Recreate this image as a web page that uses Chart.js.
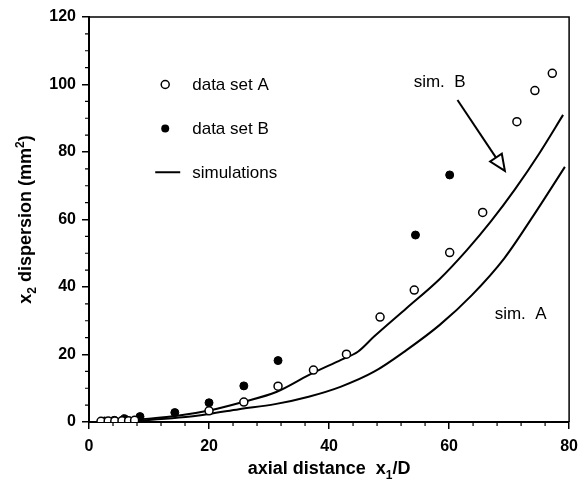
<!DOCTYPE html>
<html>
<head>
<meta charset="utf-8">
<script src="https://cdn.jsdelivr.net/npm/chart.js@4.4.1/dist/chart.umd.min.js"></script>
<style>
    html, body { margin: 0; padding: 0; background: #fff; }
</style>
</head>
<body>
<canvas id="dispersionChart" width="586" height="484"></canvas>
<script>
const dataSetAX = [2, 3.2, 4.3, 5.5, 6.6, 7.6, 20, 25.8, 31.5, 37.4, 42.9, 48.5, 54.2, 60.1, 65.6, 71.3, 74.3, 77.2];
const dataSetAY = [0.2, 0.3, 0.3, 0.4, 0.4, 0.5, 3.3, 5.9, 10.6, 15.4, 20.1, 31.1, 39.1, 50.2, 62.1, 89, 98.2, 103.3];

const dataSetBX = [2.6, 4.2, 5.9, 8.5, 14.3, 20, 25.8, 31.5, 54.4, 60.1];
const dataSetBY = [0.3, 0.5, 1.0, 1.6, 2.8, 5.7, 10.7, 18.2, 55.4, 73.2];

// Simulation curves
const simAX = [2, 5, 10, 15, 20, 25, 31, 36.6, 42, 47.5, 52.9, 58.4, 63.8, 69.2, 74, 79.3];
const simAY = [0.1, 0.2, 0.6, 1.3, 2.4, 3.8, 5.3, 7.5, 10.5, 14.9, 21.3, 28.7, 37.6, 48.5, 61, 75.6];

const simBX = [2, 5, 10, 15, 20, 25.8, 31.2, 36.6, 42, 44.8, 47.5, 52.9, 58.4, 63, 67, 71, 75, 79];
const simBY = [0.2, 0.4, 1.0, 1.9, 3.4, 6.0, 8.9, 13.9, 18.4, 20.8, 25.3, 33.7, 42.3, 51, 59.5, 69, 79.5, 91];

const xTicks = [0, 20, 40, 60, 80];
const yTicks = [0, 20, 40, 60, 80, 100, 120];

const legendLabels = ['data set A', 'data set B', 'simulations'];

function toPoints(xs, ys) {
    return xs.map((x, i) => ({ x: x, y: ys[i] }));
}

function drawRich(ctx, parts, x, y, size) {
    // parts: [text, mode] where mode is '', 'sub' or 'sup'
    const small = Math.round(size * 0.65);
    let total = 0;
    parts.forEach(p => {
        ctx.font = 'bold ' + (p[1] ? small : size) + 'px "Liberation Sans", Arial, sans-serif';
        total += ctx.measureText(p[0]).width;
    });
    let cx = x - total / 2;
    parts.forEach(p => {
        ctx.font = 'bold ' + (p[1] ? small : size) + 'px "Liberation Sans", Arial, sans-serif';
        let dy = 0;
        if (p[1] === 'sub') dy = size * 0.3;
        if (p[1] === 'sup') dy = -size * 0.4;
        ctx.fillText(p[0], cx, y + dy);
        cx += ctx.measureText(p[0]).width;
    });
}

const decorPlugin = {
    id: 'decor',
    afterDatasetsDraw(chart) {
        const ctx = chart.ctx;
        const xs = chart.scales.x;
        const ys = chart.scales.y;
        const area = chart.chartArea;
        ctx.save();
        ctx.strokeStyle = '#000';
        ctx.fillStyle = '#000';

        // top and right frame
        ctx.lineWidth = 1.5;
        ctx.beginPath();
        ctx.moveTo(area.left, area.top);
        ctx.lineTo(area.right, area.top);
        ctx.lineTo(area.right, area.bottom);
        ctx.stroke();

        // minor ticks
        ctx.lineWidth = 1.2;
        ctx.beginPath();
        for (let v = 4; v < 80; v += 4) {
            if (v % 20 === 0) continue;
            const px = xs.getPixelForValue(v);
            ctx.moveTo(px, area.bottom);
            ctx.lineTo(px, area.bottom + 4);
        }
        for (let v = 5; v < 120; v += 5) {
            if (v % 20 === 0) continue;
            const py = ys.getPixelForValue(v);
            ctx.moveTo(area.left, py);
            ctx.lineTo(area.left - 4, py);
        }
        ctx.stroke();

        // legend
        const lx = xs.getPixelForValue(12.7);
        const ly = [100, 87, 74].map(v => ys.getPixelForValue(v));
        ctx.lineWidth = 1.5;
        ctx.beginPath();
        ctx.arc(lx, ly[0], 4, 0, Math.PI * 2);
        ctx.stroke();
        ctx.beginPath();
        ctx.arc(lx, ly[1], 4, 0, Math.PI * 2);
        ctx.fill();
        ctx.lineWidth = 2;
        ctx.beginPath();
        ctx.moveTo(lx - 10, ly[2]);
        ctx.lineTo(lx + 15, ly[2]);
        ctx.stroke();
        ctx.font = '17px "Liberation Sans", Arial, sans-serif';
        ctx.textBaseline = 'middle';
        ctx.textAlign = 'left';
        legendLabels.forEach((t, i) => ctx.fillText(t, lx + 27, ly[i] + 1));

        // curve labels
        ctx.fillText('sim.  B', xs.getPixelForValue(54.1), ys.getPixelForValue(100.7));
        ctx.fillText('sim.  A', xs.getPixelForValue(67.6), ys.getPixelForValue(32));

        // arrow pointing to sim. B
        const ax0 = xs.getPixelForValue(61.4), ay0 = ys.getPixelForValue(95.4);
        const ax1 = xs.getPixelForValue(69.3), ay1 = ys.getPixelForValue(74.4);
        const ang = Math.atan2(ay1 - ay0, ax1 - ax0);
        const headLen = 16, headW = 7;
        const bx = ax1 - headLen * Math.cos(ang), by = ay1 - headLen * Math.sin(ang);
        ctx.lineWidth = 2;
        ctx.beginPath();
        ctx.moveTo(ax0, ay0);
        ctx.lineTo(bx, by);
        ctx.stroke();
        ctx.beginPath();
        ctx.moveTo(ax1, ay1);
        ctx.lineTo(bx + headW * Math.sin(ang), by - headW * Math.cos(ang));
        ctx.lineTo(bx - headW * Math.sin(ang), by + headW * Math.cos(ang));
        ctx.closePath();
        ctx.fillStyle = '#fff';
        ctx.fill();
        ctx.stroke();
        ctx.fillStyle = '#000';

        // axis titles
        ctx.textAlign = 'left';
        ctx.textBaseline = 'alphabetic';
        drawRich(ctx, [['axial distance  x', ''], ['1', 'sub'], ['/D', '']],
            (area.left + area.right) / 2, 474, 18);
        ctx.translate(31, (area.top + area.bottom) / 2);
        ctx.rotate(-Math.PI / 2);
        drawRich(ctx, [['x', ''], ['2', 'sub'], [' dispersion (mm', ''], ['2', 'sup'], [')', '']],
            0, 0, 18);
        ctx.restore();
    }
};

const ctx = document.getElementById('dispersionChart');

new Chart(ctx, {
    type: 'scatter',
    data: {
        datasets: [
            {
                label: 'data set A',
                data: toPoints(dataSetAX, dataSetAY),
                pointStyle: 'circle',
                pointRadius: 4,
                pointBorderWidth: 1.5,
                pointBorderColor: '#000',
                pointBackgroundColor: '#fff'
            },
            {
                label: 'data set B',
                data: toPoints(dataSetBX, dataSetBY),
                pointStyle: 'circle',
                pointRadius: 4,
                pointBorderWidth: 1,
                pointBorderColor: '#000',
                pointBackgroundColor: '#000'
            },
            {
                label: 'sim A',
                data: toPoints(simAX, simAY),
                showLine: true,
                borderColor: '#000',
                borderWidth: 2,
                pointRadius: 0,
                cubicInterpolationMode: 'monotone'
            },
            {
                label: 'sim B',
                data: toPoints(simBX, simBY),
                showLine: true,
                borderColor: '#000',
                borderWidth: 2,
                pointRadius: 0,
                cubicInterpolationMode: 'monotone'
            }
        ]
    },
    options: {
        responsive: false,
        animation: false,
        layout: { padding: { top: 17, right: 7, left: 0, bottom: 0 } },
        plugins: {
            legend: { display: false },
            tooltip: { enabled: false }
        },
        scales: {
            x: {
                type: 'linear',
                min: 0,
                max: 80,
                afterFit: (scale) => { scale.height = 62; },
                afterBuildTicks: (scale) => { scale.ticks = xTicks.map(v => ({ value: v })); },
                grid: { drawOnChartArea: false, drawTicks: true, tickLength: 7, color: '#000', lineWidth: 1.5 },
                border: { display: true, color: '#000', width: 2 },
                ticks: {
                    color: '#000',
                    padding: 8,
                    maxRotation: 0,
                    font: { family: '"Liberation Sans", Arial, sans-serif', size: 16, weight: 'bold' }
                }
            },
            y: {
                type: 'linear',
                min: 0,
                max: 120,
                afterFit: (scale) => { scale.width = 89; },
                afterBuildTicks: (scale) => { scale.ticks = yTicks.map(v => ({ value: v })); },
                grid: { drawOnChartArea: false, drawTicks: true, tickLength: 7, color: '#000', lineWidth: 1.5 },
                border: { display: true, color: '#000', width: 2 },
                ticks: {
                    color: '#000',
                    padding: 6,
                    font: { family: '"Liberation Sans", Arial, sans-serif', size: 16, weight: 'bold' }
                }
            }
        }
    },
    plugins: [decorPlugin]
});
</script>
</body>
</html>
